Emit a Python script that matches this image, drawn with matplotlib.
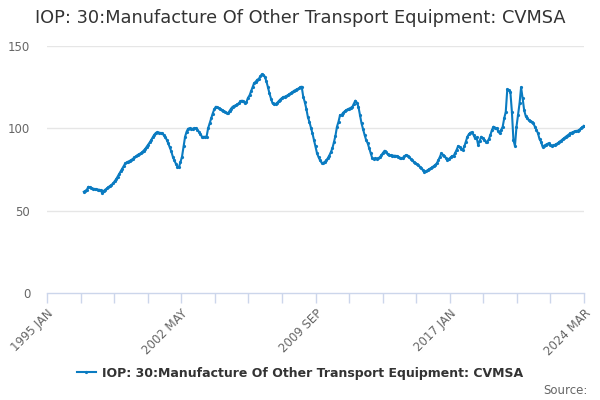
import matplotlib
matplotlib.use("Agg")
import matplotlib.pyplot as plt
import numpy as np

# monthly index values, 1997 JAN .. 2024 MAR
start_year = 1997
values = [
    61.5, 62.0, 62.8, 64.5, 64.2, 63.8, 63.4, 63.2, 63.0, 62.8, 62.7, 62.5,  # 1997
    60.5, 62.0, 62.8, 63.5, 64.2, 65.0, 65.6, 66.5, 67.8, 69.0, 70.6, 72.2,  # 1998
    73.8, 75.3, 77.0, 78.7, 79.3, 79.8, 80.3, 80.8, 81.5, 82.3, 83.0, 83.8,  # 1999
    84.3, 84.8, 85.5, 86.5, 87.5, 88.8, 90.0, 91.5, 93.0, 94.7, 96.2, 97.3,  # 2000
    97.5, 97.4, 97.2, 97.0, 96.0, 94.5, 93.2, 90.9, 88.5, 86.0, 82.8, 80.5,  # 2001
    78.5, 76.7, 76.5, 79.5, 82.8, 89.0, 94.9, 98.0, 99.8, 100.0, 99.5, 99.8,  # 2002
    100.0, 100.2, 99.0, 98.0, 96.5, 94.9, 94.8, 94.9, 94.9, 100.0, 103.0, 106.0,  # 2003
    109.0, 111.5, 113.1, 112.8, 112.3, 111.8, 111.2, 110.7, 110.2, 109.5, 109.1, 110.5,  # 2004
    112.0, 113.1, 113.6, 114.0, 114.5, 115.2, 116.3, 116.8, 116.5, 115.2, 116.0, 118.5,  # 2005
    120.0, 122.5, 125.0, 127.5, 128.3, 129.5, 130.0, 131.5, 132.8, 132.5, 131.3, 128.5,  # 2006
    125.0, 121.2, 118.0, 115.2, 114.5, 114.8, 115.5, 116.5, 117.5, 118.3, 119.0, 119.2,  # 2007
    119.6, 120.2, 120.8, 121.5, 122.0, 122.8, 123.3, 123.8, 124.2, 124.9, 125.3, 119.2,  # 2008
    116.0, 112.0, 107.0, 104.0, 100.5, 97.0, 93.0, 89.0, 84.8, 82.5, 80.5, 79.1,  # 2009
    79.0, 79.6, 80.5, 81.8, 83.5, 85.5, 87.9, 91.5, 95.5, 101.0, 104.0, 108.1,  # 2010
    108.1, 109.5, 110.3, 111.1, 111.5, 112.0, 112.5, 113.0, 115.0, 116.8, 115.5, 113.0,  # 2011
    108.0, 103.0, 99.5, 96.0, 92.9, 91.0, 87.9, 85.0, 81.8, 81.5, 81.8, 81.6,  # 2012
    81.8, 82.5, 83.8, 85.0, 86.4, 85.5, 84.2, 83.8, 83.6, 83.5, 83.4, 83.3,  # 2013
    83.2, 82.8, 82.2, 81.8, 82.2, 83.0, 83.8, 83.5, 82.5, 81.5, 80.5, 79.7,  # 2014
    79.0, 78.3, 77.5, 76.7, 75.7, 74.7, 73.7, 74.0, 74.5, 75.2, 75.7, 76.3,  # 2015
    77.0, 77.8, 78.7, 80.5, 82.5, 84.8, 84.0, 83.2, 82.0, 80.8, 81.5, 82.3,  # 2016
    83.2, 83.2, 85.0, 87.0, 89.3, 88.5, 87.5, 86.8, 89.0, 92.0, 94.9, 96.5,  # 2017
    97.4, 97.6, 96.0, 93.9, 94.5, 89.9, 92.5, 94.9, 94.0, 93.0, 92.0, 91.9,  # 2018
    93.5, 96.0, 99.0, 101.0, 100.5, 100.0, 98.5, 97.0, 99.0, 101.0, 106.1, 110.0,  # 2019
    123.7, 123.0, 122.2, 110.1, 92.9, 89.3, 101.0, 108.0, 115.2, 124.9, 118.2, 111.0,  # 2020
    107.5, 106.0, 105.0, 104.5, 104.0, 103.0, 101.0, 99.0, 97.0, 93.5, 91.9, 88.8,  # 2021
    89.5, 90.0, 90.5, 90.9, 90.0, 89.4, 89.6, 90.0, 90.5, 91.0, 91.9, 92.5,  # 2022
    93.3, 94.0, 94.8, 95.5, 96.2, 97.0, 97.4, 97.8, 98.2, 98.4, 98.6, 99.2,  # 2023
    100.0, 100.8, 101.6,  # 2024
]
tick_labels = ["1995 JAN", "2002 MAY", "2009 SEP", "2017 JAN", "2024 MAR"]
series_name = "IOP: 30:Manufacture Of Other Transport Equipment: CVMSA"
title = "IOP: 30:Manufacture Of Other Transport Equipment: CVMSA"

# months since 1995 JAN
months = (start_year - 1995) * 12 + np.arange(len(values))
span = 350  # 1995 JAN .. 2024 MAR

line_col = "#0a7bc1"
grid_col = "#e6e6e6"
axis_col = "#ccd6eb"
text_col = "#666666"

fig = plt.figure(figsize=(6, 4), dpi=100)
ax = fig.add_axes([47 / 600, 107 / 400, 537 / 600, 247 / 400])

ax.plot(months, values, color=line_col, lw=1.5, marker="o", ms=2.3,
        markeredgewidth=0, label=series_name)

ax.set_xlim(0, span)
ax.set_ylim(0, 150)
ax.set_yticks([0, 50, 100, 150])
for v in [50, 100, 150]:
    ax.axhline(v, color=grid_col, lw=1, zorder=0)

ax.set_xticks(np.linspace(0, span, 5))
ax.set_xticklabels(tick_labels, rotation=45, ha="right", rotation_mode="anchor")
ax.set_xticks(np.linspace(0, span, 17), minor=True)
ax.tick_params(axis="x", which="both", length=7, width=1, color=axis_col,
               labelsize=8.5, labelcolor=text_col, pad=3)
ax.tick_params(axis="y", length=0, labelsize=8.5, labelcolor=text_col, pad=12)

for s in ["top", "right", "left"]:
    ax.spines[s].set_visible(False)
ax.spines["bottom"].set_color(axis_col)
ax.spines["bottom"].set_linewidth(1)

fig.text(0.5, 1 - 18 / 400, title, ha="center", va="center",
         fontsize=12.8, color="#333333")

fig.legend(loc="center", bbox_to_anchor=(0.5, 1 - 373 / 400), frameon=False,
           handlelength=1.5, handletextpad=0.5,
           prop={"size": 9, "weight": "bold"}, labelcolor="#333333")

fig.text(588 / 600, 1 - 390 / 400, "Source:", ha="right", va="center",
         fontsize=8.5, color=text_col)

fig.savefig("out.png", dpi=100)
